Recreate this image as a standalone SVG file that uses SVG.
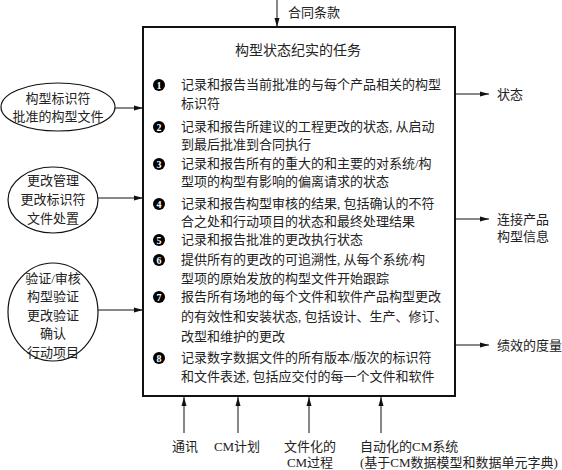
<svg xmlns="http://www.w3.org/2000/svg" width="562" height="470" viewBox="0 0 562 470">
<style>
text{font-family:"Liberation Serif","Noto Sans CJK SC",serif;font-size:13px;fill:#222}
.c{text-anchor:middle}
.ln{stroke:#111;stroke-width:1;fill:none}
.el{stroke:#111;stroke-width:1.2;fill:#fff}
.bn{fill:#000}
.bt{fill:#fff;font-size:10px;font-weight:bold;text-anchor:middle}
</style>
<defs>
<marker id="ah" markerWidth="9" markerHeight="6" refX="9" refY="3" orient="auto" markerUnits="userSpaceOnUse">
<path d="M0,0.5 L9,3 L0,5.5 Z" fill="#111"/>
</marker>
</defs>
<g id="connectors">
<line class="ln" x1="277" y1="0" x2="277" y2="27" marker-end="url(#ah)"/>
<line class="ln" x1="110" y1="108" x2="143" y2="108" marker-end="url(#ah)"/>
<line class="ln" x1="98" y1="198" x2="143" y2="198" marker-end="url(#ah)"/>
<line class="ln" x1="98" y1="310" x2="143" y2="310" marker-end="url(#ah)"/>
<line class="ln" x1="455" y1="94" x2="489" y2="94" marker-end="url(#ah)"/>
<line class="ln" x1="455" y1="219" x2="489" y2="219" marker-end="url(#ah)"/>
<line class="ln" x1="455" y1="345" x2="489" y2="345" marker-end="url(#ah)"/>
<line class="ln" x1="184" y1="433" x2="184" y2="397" marker-end="url(#ah)"/>
<line class="ln" x1="238" y1="433" x2="238" y2="397" marker-end="url(#ah)"/>
<line class="ln" x1="309" y1="433" x2="309" y2="397" marker-end="url(#ah)"/>
<line class="ln" x1="381" y1="433" x2="381" y2="397" marker-end="url(#ah)"/>
</g>
<g id="top-label"><text x="288" y="17">合同条款</text></g>
<g id="main">
<rect x="143" y="27" width="312" height="369" fill="#fff" stroke="#111" stroke-width="2"/>
<text class="c" x="298" y="55" style="font-size:14px">构型状态纪实的任务</text>
<g id="item1"><circle class="bn" cx="159" cy="85" r="6"/><text class="bt" x="159" y="88.5">1</text>
<text x="181" y="89">记录和报告当前批准的与每个产品相关的构型</text><text x="181" y="108">标识符</text></g>
<g id="item2"><circle class="bn" cx="159" cy="127" r="6"/><text class="bt" x="159" y="130.5">2</text>
<text x="181" y="131">记录和报告所建议的工程更改的状态, 从启动</text><text x="181" y="149">到最后批准到合同执行</text></g>
<g id="item3"><circle class="bn" cx="159" cy="164" r="6"/><text class="bt" x="159" y="167.5">3</text>
<text x="181" y="168">记录和报告所有的重大的和主要的对系统/构</text><text x="181" y="186">型项的构型有影响的偏离请求的状态</text></g>
<g id="item4"><circle class="bn" cx="159" cy="204" r="6"/><text class="bt" x="159" y="207.5">4</text>
<text x="181" y="208">记录和报告构型审核的结果, 包括确认的不符</text><text x="181" y="226">合之处和行动项目的状态和最终处理结果</text></g>
<g id="item5"><circle class="bn" cx="159" cy="240" r="6"/><text class="bt" x="159" y="243.5">5</text>
<text x="181" y="244">记录和报告批准的更改执行状态</text></g>
<g id="item6"><circle class="bn" cx="159" cy="260" r="6"/><text class="bt" x="159" y="263.5">6</text>
<text x="181" y="264">提供所有的更改的可追溯性, 从每个系统/构</text><text x="181" y="283">型项的原始发放的构型文件开始跟踪</text></g>
<g id="item7"><circle class="bn" cx="159" cy="297" r="6"/><text class="bt" x="159" y="300.5">7</text>
<text x="181" y="301">报告所有场地的每个文件和软件产品构型更改</text><text x="181" y="321">的有效性和安装状态, 包括设计、生产、修订、</text><text x="181" y="341">改型和维护的更改</text></g>
<g id="item8"><circle class="bn" cx="159" cy="358" r="6"/><text class="bt" x="159" y="361.5">8</text>
<text x="181" y="362">记录数字数据文件的所有版本/版次的标识符</text><text x="181" y="381">和文件表述, 包括应交付的每一个文件和软件</text></g>
</g>
<g id="in1"><ellipse class="el" cx="58" cy="107" rx="57" ry="24"/>
<text class="c" x="58" y="103">构型标识符</text><text class="c" x="58" y="121">批准的构型文件</text></g>
<g id="in2"><ellipse class="el" cx="53" cy="200" rx="45" ry="33"/>
<text class="c" x="53" y="185">更改管理</text><text class="c" x="53" y="204">更改标识符</text><text class="c" x="53" y="223">文件处置</text></g>
<g id="in3"><ellipse class="el" cx="53" cy="312" rx="45" ry="49"/>
<text class="c" x="53" y="283">验证/审核</text><text class="c" x="53" y="301">构型验证</text><text class="c" x="53" y="320">更改验证</text><text class="c" x="53" y="338">确认</text><text class="c" x="53" y="357">行动项目</text></g>
<g id="out1"><text x="497" y="99">状态</text></g>
<g id="out2"><text x="497" y="224">连接产品</text><text x="497" y="241">构型信息</text></g>
<g id="out3"><text x="497" y="350">绩效的度量</text></g>
<g id="b1"><text class="c" x="185" y="451">通讯</text></g>
<g id="b2"><text class="c" x="237" y="451">CM计划</text></g>
<g id="b3"><text class="c" x="310" y="451">文件化的</text><text class="c" x="310" y="467">CM过程</text></g>
<g id="b4"><text x="360" y="451">自动化的CM系统</text><text x="360" y="467">(基于CM数据模型和数据单元字典)</text></g>
</svg>
